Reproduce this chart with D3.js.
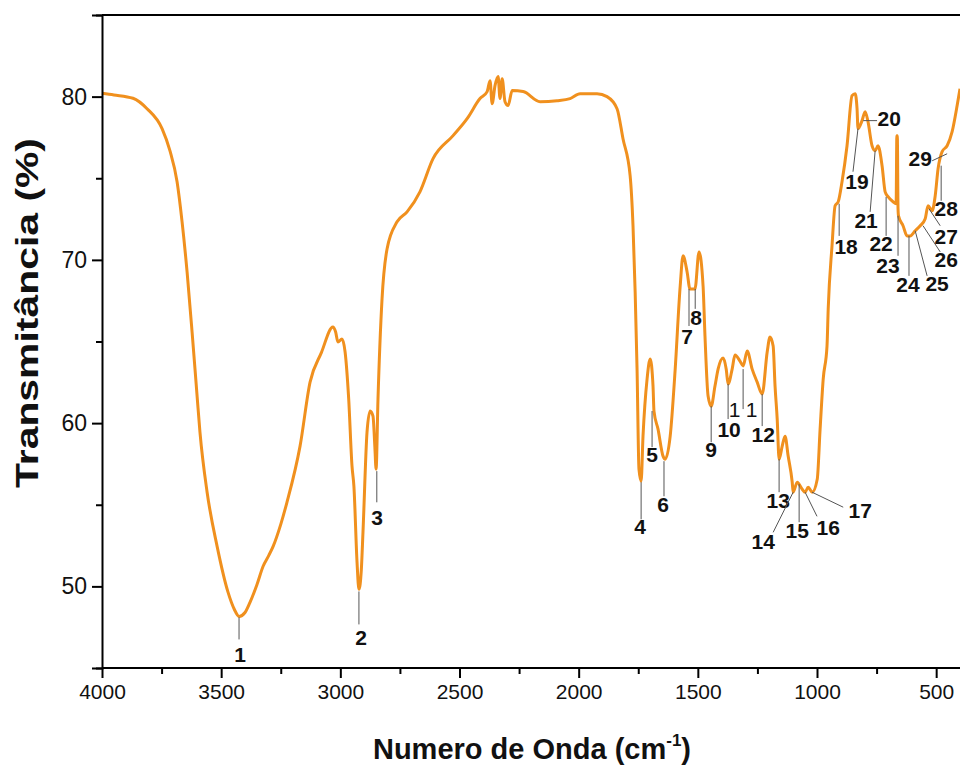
<!DOCTYPE html>
<html>
<head>
<meta charset="utf-8">
<script src="https://cdn.jsdelivr.net/npm/d3@7"></script>
<style>
  html, body { margin: 0; padding: 0; background: #fff; }
  svg { display: block; }
  text { font-family: "Liberation Sans", Arial, sans-serif; }
</style>
</head>
<body>
<svg id="chart" width="960" height="767"></svg>
<script>
// ---- DATA ----
const wavenumber = [
  4000, 3950, 3870, 3811, 3748, 3715, 3685, 3664, 3643, 3622, 3601, 3589, 3559, 3517, 3471, 3445, 3425, 3400,
  3379, 3350, 3324, 3300, 3282, 3250, 3224, 3169, 3127, 3080, 3031, 3020, 3010, 2993, 2980, 2965, 2951, 2943,
  2930, 2922, 2912, 2905, 2888, 2875, 2863, 2855, 2850, 2842, 2825, 2804, 2762, 2720, 2666, 2611, 2527, 2468,
  2414, 2384, 2372, 2363, 2351, 2338, 2330, 2321, 2309, 2296, 2279, 2233, 2162, 2091, 2036, 1994, 1923, 1881,
  1839, 1814, 1784, 1772, 1763, 1755, 1747, 1738, 1730, 1713, 1700, 1688, 1684, 1667, 1646, 1637, 1616, 1595,
  1574, 1562, 1545, 1533, 1512, 1495, 1478, 1470, 1457, 1444, 1428, 1415, 1394, 1381, 1373, 1356, 1344, 1323,
  1310, 1293, 1272, 1251, 1230, 1209, 1197, 1184, 1176, 1167, 1159, 1146, 1134, 1121, 1104, 1100, 1083, 1062,
  1050, 1037, 1020, 999, 987, 974, 958, 953, 937, 924, 911, 895, 874, 853, 840, 832, 828, 811, 798, 786, 769,
  756, 744, 727, 714, 702, 681, 668, 665, 663, 660, 658, 639, 622, 609, 588, 567, 546, 534, 517, 504, 492, 475,
  454, 433, 412, 400
];
const transmittance = [
  80.2, 80.1, 79.9, 79.26, 78.04, 76.69, 74.79, 72.33, 69.26, 65.58, 61.66, 59.45, 55.77, 52.45, 49.63, 48.6, 48.16, 48.4,
  49.02, 50.1, 51.23, 51.9, 52.45, 53.8, 55.15, 58.59, 62.51, 64.3, 65.89, 65.6, 64.97, 65.15, 64.36, 61.5, 57.36, 56.13,
  51.5, 49.82, 51.0, 53.31, 59.45, 60.74, 60.43, 58.5, 57.18, 61.47, 67.61, 70.67, 72.33, 72.94, 74.17, 76.2, 77.61, 78.65,
  79.88, 80.31, 80.98, 79.57, 80.67, 81.23, 79.88, 81.1, 79.69, 79.45, 80.37, 80.31, 79.69, 79.75, 79.88, 80.18, 80.18, 80.0,
  79.26, 77.42, 75.15, 72.09, 68.04, 63.31, 57.18, 56.44, 59.2, 62.7, 63.93, 62.27, 60.74, 59.63, 57.98, 57.79, 59.2, 63.31,
  68.4, 70.25, 69.26, 68.22, 68.22, 70.49, 68.4, 65.34, 61.66, 61.04, 62.27, 63.31, 63.99, 63.31, 62.39, 63.31, 64.17, 63.8,
  63.5, 64.42, 63.31, 62.51, 61.78, 64.36, 65.28, 64.72, 62.27, 60.25, 57.79, 58.59, 59.2, 57.98, 56.38, 55.77, 56.38, 55.95,
  55.77, 56.07, 55.77, 56.56, 59.63, 62.7, 64.72, 66.99, 70.86, 73.31, 73.56, 74.79, 76.99, 80.06, 80.18, 79.26, 78.04, 78.53, 79.08, 78.47, 76.99,
  76.69, 76.99, 75.77, 74.17, 73.87, 73.56, 73.44, 77.6, 77.6, 73.13, 72.7, 72.09, 71.47, 71.47, 71.78, 72.09, 72.52, 73.31, 73.01, 73.93, 75.58, 76.63,
  76.99, 77.85, 79.45, 80.49
];

// Peak annotations (data units): leader line start/end and label anchor
const peakLabels  = ["1","2","3","4","5","6","7","8","9","10","11","12","13","14","15","16","17","18","19","20","21","22","23","24","25","26","27","28","29"];
const lineStartWn = [3425, 2922, 2847, 1738, 1692, 1642, 1537, 1511, 1444, 1373, 1310, 1230, 1159, 1100, 1075, 1050, 1021, 907, 828, 806, 756, 710, 660, 614, 588, 555, 530, 479, 454];
const lineStartT  = [48.1, 49.69, 57.06, 56.38, 60.74, 57.67, 68.22, 68.22, 61.04, 62.39, 63.31, 61.78, 57.79, 55.77, 56.26, 55.77, 55.77, 73.44, 78.04, 78.53, 76.69, 73.86, 72.7, 71.47, 71.78, 72.09, 73.13, 75.77, 76.5];
const lineEndWn   = [3425, 2922, 2847, 1738, 1692, 1642, 1537, 1511, 1444, 1373, 1310, 1230, 1159, 1184, 1075, 1000, 890, 907, 849, 748, 777, 710, 660, 614, 538, 483, 483, 479, 517];
const lineEndT    = [46.75, 47.67, 55.15, 54.11, 58.53, 55.52, 65.95, 67.0, 58.83, 60.25, 60.86, 59.82, 55.77, 53.31, 53.93, 54.29, 54.85, 71.47, 75.4, 78.53, 72.94, 71.47, 70.25, 69.02, 69.02, 70.49, 72.09, 73.62, 76.07];
const labelWn     = [3421, 2913, 2846, 1742, 1692, 1646, 1545, 1507, 1444, 1369, 1310, 1226, 1163, 1226, 1083, 953, 819, 878, 832, 697, 794, 731, 702, 618, 496, 458, 458, 458, 567];
const labelT      = [45.83, 46.87, 54.23, 53.68, 58.1, 55.03, 65.34, 66.5, 58.4, 59.63, 60.86, 59.33, 55.28, 52.76, 53.44, 53.62, 54.66, 70.8, 74.79, 78.65, 72.39, 70.98, 69.63, 68.47, 68.53, 70.0, 71.41, 73.13, 76.2];

const xMajorTicks = [4000, 3500, 3000, 2500, 2000, 1500, 1000, 500];
const xMinorTicks = [3750, 3250, 2750, 2250, 1750, 1250, 750];
const yMajorTicks = [50, 60, 70, 80];
const yMinorTicks = [45, 55, 65, 75, 85];

const xTitle = "Numero de Onda (cm";
const yTitle = "Transmitância (%)";

// ---- LAYOUT ----
const svg = d3.select("#chart");
const L = 102, R = 960, T = 15, B = 668;
const x = d3.scaleLinear().domain([4000, 400]).range([L, R]);
const y = d3.scaleLinear().domain([45, 85]).range([B, T]);

const lineColor = "#f0901e";

// spectrum
const pts = wavenumber.map((w, i) => [w, transmittance[i]]);
svg.append("path")
  .datum(pts)
  .attr("fill", "none")
  .attr("stroke", lineColor)
  .attr("stroke-width", 3)
  .attr("stroke-linejoin", "round")
  .attr("d", d3.line().x(d => x(d[0])).y(d => y(d[1])).curve(d3.curveMonotoneX));

// annotations
const ann = svg.append("g");
peakLabels.forEach((lab, i) => {
  ann.append("line")
    .attr("x1", x(lineStartWn[i])).attr("y1", y(lineStartT[i]))
    .attr("x2", x(lineEndWn[i])).attr("y2", y(lineEndT[i]))
    .attr("stroke", "#555").attr("stroke-width", 1);
  const t = ann.append("text")
    .attr("x", x(labelWn[i])).attr("y", y(labelT[i]))
    .attr("dy", "0.36em")
    .attr("text-anchor", "middle")
    .attr("font-size", 21)
    .attr("font-weight", "bold")
    .attr("fill", "#111")
    .text(lab);
  if (lab === "11") t.attr("font-weight", "normal").attr("letter-spacing", 7).attr("dx", 3.5);
});

// axes
const gx = svg.append("g").attr("transform", `translate(0,${B})`)
  .call(d3.axisBottom(x).tickValues(xMajorTicks).tickSize(10).tickPadding(6).tickFormat(d3.format("d")));
const gxm = svg.append("g").attr("transform", `translate(0,${B})`)
  .call(d3.axisBottom(x).tickValues(xMinorTicks).tickSize(6).tickFormat(""));
const gy = svg.append("g").attr("transform", `translate(${L},0)`)
  .call(d3.axisLeft(y).tickValues(yMajorTicks).tickSize(10).tickPadding(5).tickFormat(d3.format("d")));
const gym = svg.append("g").attr("transform", `translate(${L},0)`)
  .call(d3.axisLeft(y).tickValues(yMinorTicks).tickSize(6).tickFormat(""));

[gx, gxm, gy, gym].forEach(g => {
  g.select(".domain").attr("stroke", "#000").attr("stroke-width", 2);
  g.selectAll(".tick line").attr("stroke", "#000").attr("stroke-width", 2);
  g.selectAll("text").attr("font-family", "Liberation Sans, Arial, sans-serif").attr("fill", "#111");
});
gx.selectAll("text").attr("font-size", 21);
gy.selectAll("text").attr("font-size", 23);
gx.select(".domain").attr("d", `M${L},0H${R}`);
gxm.select(".domain").remove();
gym.select(".domain").remove();

// top frame
svg.append("line").attr("x1", L).attr("x2", R).attr("y1", y(85)).attr("y2", y(85))
  .attr("stroke", "#000").attr("stroke-width", 2);

// titles
const xt = svg.append("text")
  .attr("x", 532).attr("y", 759)
  .attr("text-anchor", "middle")
  .attr("font-size", 29).attr("font-weight", "bold").attr("fill", "#111");
xt.append("tspan").text(xTitle);
xt.append("tspan").attr("font-size", 17).attr("dy", -13).text("-1");
xt.append("tspan").attr("dy", 13).text(")");

svg.append("text")
  .attr("transform", `translate(38,313) rotate(-90)`)
  .attr("text-anchor", "middle")
  .attr("font-size", 31).attr("font-weight", "bold").attr("fill", "#111")
  .attr("textLength", 350).attr("lengthAdjust", "spacingAndGlyphs")
  .text(yTitle);
</script>
</body>
</html>
